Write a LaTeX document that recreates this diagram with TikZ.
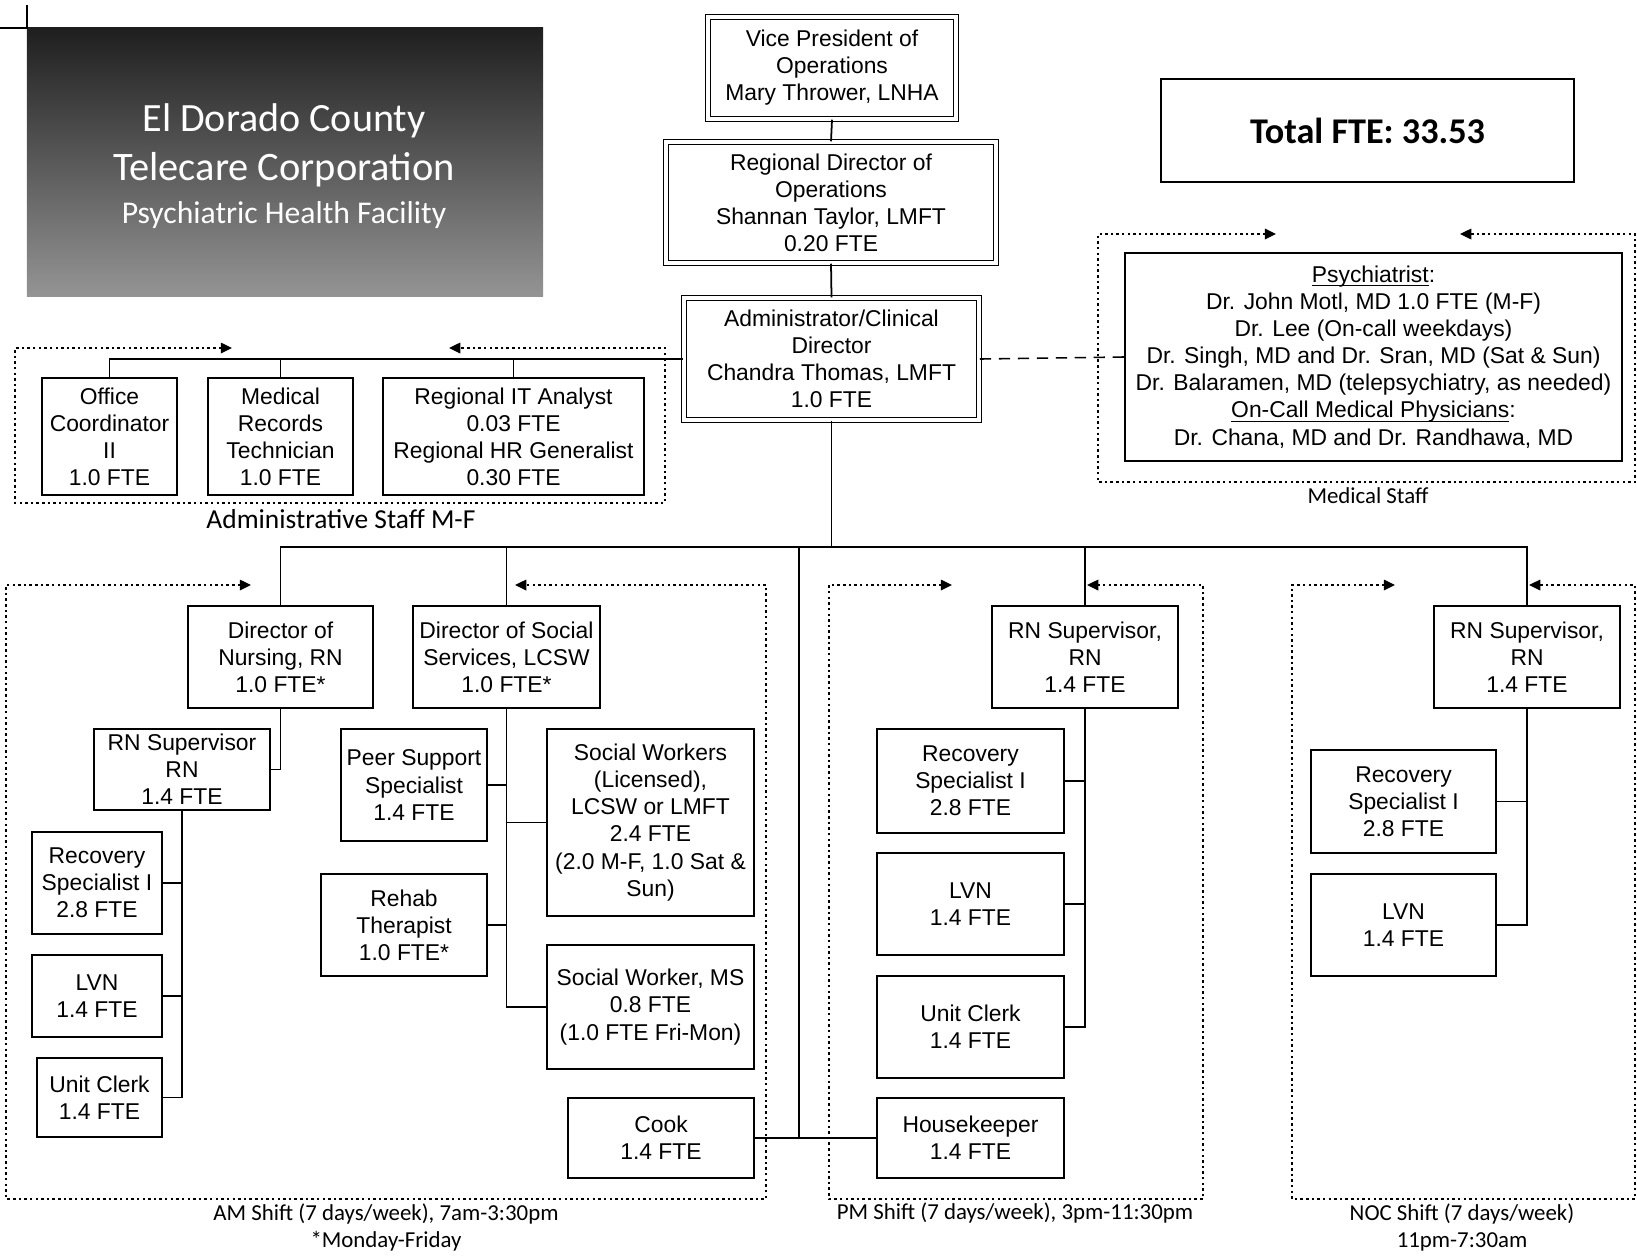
\documentclass[tikz,border=0pt]{standalone}
\usepackage{fontspec}
\setmainfont{Liberation Sans}
\newfontfamily\calfont{Carlito}
\usetikzlibrary{arrows.meta}
\newcommand{\myul}[1]{\leavevmode\setbox0=\hbox{#1}\rlap{\rule[-1.1pt]{\wd0}{0.35pt}}\box0}
\begin{document}
\begin{tikzpicture}[x=0.01cm,y=-0.01cm,
  box/.style={draw, line width=0.5pt, inner sep=0pt, align=center, font=\fontsize{6.5}{7.7}\selectfont},
  dbox/.style={box, double, double distance=1.1pt, line width=0.4pt},
  grp/.style={line width=0.45pt, dash pattern=on 0.7pt off 0.9pt, {Triangle[length=3.2pt,width=3pt]}-{Triangle[length=3.2pt,width=3pt]}},
  conn/.style={line width=0.5pt},
  captxt/.style={font=\calfont\fontsize{6.5}{7.7}\selectfont, align=center, inner sep=0pt},
]
\useasboundingbox (0,0) rectangle (1637,1257);

% title panel
\node[minimum width=5.16cm, minimum height=2.68cm, inner sep=0pt, top color=black!88, bottom color=black!42, draw=none] (title) at (285,162) {};
\node[font=\calfont\fontsize{11.4}{13}\selectfont, text=white, inner sep=0pt] (t1) at (284,121) {El Dorado County};
\node[font=\calfont\fontsize{11.5}{13}\selectfont, text=white, inner sep=0pt] (t2) at (284,170) {Telecare Corporation};
\node[font=\calfont\fontsize{9}{11}\selectfont, text=white, inner sep=0pt] (t3) at (284,215) {Psychiatric Health Facility};
\draw[line width=0.4pt] (27,5) -- (27,28) -- (0,28);

% top chain
\node[dbox, minimum width=2.48cm, minimum height=1.02cm] (vp) at (832,68) {Vice President of\\Operations\\Mary Thrower, LNHA};
\node[dbox, minimum width=3.30cm, minimum height=1.21cm] (rdo) at (831,202.5) {Regional Director of\\Operations\\Shannan Taylor, LMFT\\0.20 FTE};
\node[dbox, minimum width=2.95cm, minimum height=1.22cm] (acd) at (831.5,359) {Administrator/Clinical\\Director\\Chandra Thomas, LMFT\\1.0 FTE};
\node[box, minimum width=4.13cm, minimum height=1.03cm, font=\calfont\bfseries\fontsize{10.3}{12}\selectfont] (total) at (1367.5,130.5) {Total FTE: 33.53};

% medical staff
\node[box, minimum width=4.97cm, minimum height=2.08cm] (med) at (1373.5,357) {\myul{Psychiatrist}:\\Dr. John Motl, MD 1.0 FTE (M-F)\\Dr. Lee (On-call weekdays)\\Dr. Singh, MD and Dr. Sran, MD (Sat \& Sun)\\Dr. Balaramen, MD (telepsychiatry, as needed)\\\myul{On-Call Medical Physicians}:\\Dr. Chana, MD and Dr. Randhawa, MD};
\node[captxt] (lblmed) at (1368,496) {Medical Staff};

% administrative staff
\node[box, minimum width=1.35cm, minimum height=1.17cm] (oc) at (109.5,436.5) {Office\\Coordinator\\II\\1.0 FTE};
\node[box, minimum width=1.45cm, minimum height=1.17cm] (mrt) at (280.5,436.5) {Medical\\Records\\Technician\\1.0 FTE};
\node[box, minimum width=2.61cm, minimum height=1.17cm] (it) at (513.5,436.5) {Regional IT Analyst\\0.03 FTE\\Regional HR Generalist\\0.30 FTE};
\node[captxt, font=\calfont\fontsize{7.8}{9}\selectfont] (lbladm) at (341,519) {Administrative Staff M-F};

% AM shift
\node[box, minimum width=1.85cm, minimum height=1.02cm] (don) at (280.5,657) {Director of\\Nursing, RN\\1.0 FTE*};
\node[box, minimum width=1.87cm, minimum height=1.02cm] (dss) at (506.5,657) {Director of Social\\Services, LCSW\\1.0 FTE*};
\node[box, minimum width=1.76cm, minimum height=0.81cm] (rnam) at (182,769.5) {RN Supervisor\\RN\\1.4 FTE};
\node[box, minimum width=1.30cm, minimum height=1.02cm] (rsam) at (97,883) {Recovery\\Specialist I\\2.8 FTE};
\node[box, minimum width=1.30cm, minimum height=0.82cm] (lvnam) at (97,996) {LVN\\1.4 FTE};
\node[box, minimum width=1.25cm, minimum height=0.79cm] (ucam) at (99.5,1097.5) {Unit Clerk\\1.4 FTE};
\node[box, minimum width=1.46cm, minimum height=1.12cm] (peer) at (414,785) {Peer Support\\Specialist\\1.4 FTE};
\node[box, minimum width=2.07cm, minimum height=1.87cm] (sw) at (650.5,822.5) {Social Workers\\(Licensed),\\LCSW or LMFT\\2.4 FTE\\(2.0 M-F, 1.0 Sat \&\\Sun)};
\node[box, minimum width=1.66cm, minimum height=1.02cm] (rehab) at (404,925) {Rehab\\Therapist\\1.0 FTE*};
\node[box, minimum width=2.07cm, minimum height=1.24cm] (swms) at (650.5,1007) {Social Worker, MS\\0.8 FTE\\(1.0 FTE Fri-Mon)};
\node[box, minimum width=1.86cm, minimum height=0.80cm] (cook) at (661,1138) {Cook\\1.4 FTE};
\node[captxt] (lblam) at (386,1227) {AM Shift (7 days/week), 7am-3:30pm\\*Monday-Friday};

% PM shift
\node[box, minimum width=1.86cm, minimum height=1.02cm] (rnpm) at (1085,657) {RN Supervisor,\\RN\\1.4 FTE};
\node[box, minimum width=1.87cm, minimum height=1.04cm] (rspm) at (970.5,781) {Recovery\\Specialist I\\2.8 FTE};
\node[box, minimum width=1.87cm, minimum height=1.02cm] (lvnpm) at (970.5,904) {LVN\\1.4 FTE};
\node[box, minimum width=1.87cm, minimum height=1.02cm] (ucpm) at (970.5,1027) {Unit Clerk\\1.4 FTE};
\node[box, minimum width=1.87cm, minimum height=0.80cm] (hk) at (970.5,1138) {Housekeeper\\1.4 FTE};
\node[captxt] (lblpm) at (1015,1213) {PM Shift (7 days/week), 3pm-11:30pm};

% NOC shift
\node[box, minimum width=1.86cm, minimum height=1.02cm] (rnnoc) at (1527,657) {RN Supervisor,\\RN\\1.4 FTE};
\node[box, minimum width=1.85cm, minimum height=1.03cm] (rsnoc) at (1403.5,801.5) {Recovery\\Specialist I\\2.8 FTE};
\node[box, minimum width=1.85cm, minimum height=1.02cm] (lvnnoc) at (1403.5,925) {LVN\\1.4 FTE};
\node[captxt] (lblnoc) at (1462,1227) {NOC Shift (7 days/week)\\11pm-7:30am};

% group frames
\draw[grp] (232,348) -- (15,348) -- (15,503) -- (665,503) -- (665,348) -- (449,348);
\draw[grp] (1276,234) -- (1098,234) -- (1098,482) -- (1635,482) -- (1635,234) -- (1460,234);
\draw[grp] (251,585) -- (6,585) -- (6,1199) -- (766,1199) -- (766,585) -- (515,585);
\draw[grp] (952,585) -- (829,585) -- (829,1199) -- (1203,1199) -- (1203,585) -- (1087,585);
\draw[grp] (1395,585) -- (1292,585) -- (1292,1199) -- (1635,1199) -- (1635,585) -- (1529,585);

% connectors
\coordinate (busy) at (0,547);
\coordinate (midx) at (799,0);
\draw[conn] (vp.south) -- (rdo.north);
\draw[conn] (rdo.south) -- (acd.north);
\draw[conn] (acd.south) -- (acd.south |- busy);
\draw[conn] (don.north) -- (don.north |- busy) -- (rnnoc.north |- busy) -- (rnnoc.north);
\draw[conn] (dss.north) -- (dss.north |- busy);
\draw[conn] (rnpm.north) -- (rnpm.north |- busy);
\draw[conn] (midx |- busy) -- (midx |- cook.east);
\draw[conn] (cook.east) -- (hk.west);
\draw[dash pattern=on 3.2pt off 2.2pt, line width=0.45pt] (acd.east) -- (med.west);

\draw[conn] (acd.west) -- (oc.north |- acd.west) -- (oc.north);
\draw[conn] (mrt.north) -- (mrt.north |- acd.west);
\draw[conn] (it.north) -- (it.north |- acd.west);

\draw[conn] (don.south) |- (rnam.east);
\draw[conn] (rnam.south) |- (ucam.east);
\draw[conn] (rsam.east) -- (rsam.east -| rnam.south);
\draw[conn] (lvnam.east) -- (lvnam.east -| rnam.south);

\draw[conn] (dss.south) |- (swms.west);
\draw[conn] (peer.east) -- (peer.east -| dss.south);
\draw[conn] (sw.west) -- (sw.west -| dss.south);
\draw[conn] (rehab.east) -- (rehab.east -| dss.south);

\draw[conn] (rnpm.south) |- (ucpm.east);
\draw[conn] (rspm.east) -- (rspm.east -| rnpm.south);
\draw[conn] (lvnpm.east) -- (lvnpm.east -| rnpm.south);

\draw[conn] (rnnoc.south) |- (lvnnoc.east);
\draw[conn] (rsnoc.east) -- (rsnoc.east -| rnnoc.south);
\end{tikzpicture}
\end{document}
